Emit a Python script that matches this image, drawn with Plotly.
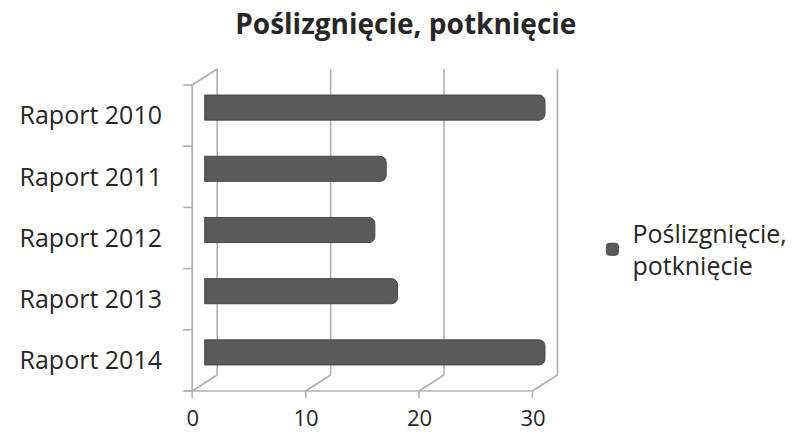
import plotly.graph_objects as go

categories = ["Raport 2010", "Raport 2011", "Raport 2012", "Raport 2013", "Raport 2014"]
values = [30, 16, 15, 17, 30]
x_ticks = [0, 10, 20, 30]
series_name = "Poślizgnięcie,<br>potknięcie"
title_text = "Poślizgnięcie, potknięcie"

W, H = 803, 434
X_RANGE = [-2, 31.5]
ML, MR, MT, MB = 182, 241, 77, 51
PW = W - ML - MR          # plot width in px
PH = H - MT - MB          # plot height in px
DX, DY = 12.5, 8          # half-depth offsets of the 3D box (px)
GRID = "#b0b0b0"
FONT = "'Open Sans', sans-serif"
TXT = "#262626"

fig = go.Figure()
fig.add_trace(go.Bar(
    y=categories, x=values, orientation="h", name=series_name,
    width=0.41,
    marker=dict(color="#5a5a5a", line=dict(color="#474747", width=1)),
    showlegend=True,
))

shapes = []
def seg(xv, x0, y0, x1, y1):
    shapes.append(dict(type="line", xref="x", yref="paper",
                       xsizemode="pixel", ysizemode="pixel",
                       xanchor=xv, yanchor=0,
                       x0=x0, y0=y0, x1=x1, y1=y1,
                       line=dict(color=GRID, width=1.6), layer="below"))

px_per_unit = PW / (X_RANGE[1] - X_RANGE[0])
floor_len = (x_ticks[-1] - x_ticks[0]) * px_per_unit
for v in x_ticks:
    seg(v, DX, DY, DX, PH + DY)          # back wall vertical line
    seg(v, -DX, -DY, DX, DY)             # floor diagonal
    seg(v, -DX, -DY, -DX, -DY - 7)       # tick mark on front floor edge
# front floor edge
seg(x_ticks[0], -DX - 8, -DY, -DX + floor_len, -DY)
# left wall front vertical line + top diagonal
seg(x_ticks[0], -DX, -DY, -DX, PH - DY)
seg(x_ticks[0], -DX, PH - DY, DX, PH + DY)
# left category ticks
n = len(categories)
for k in range(n + 1):
    yk = -DY + k * PH / n
    seg(x_ticks[0], -DX - 9, yk, -DX, yk)

fig.update_layout(
    width=W, height=H,
    margin=dict(l=ML, r=MR, t=MT, b=MB, autoexpand=False),
    paper_bgcolor="white", plot_bgcolor="rgba(0,0,0,0)",
    font=dict(family=FONT, color=TXT),
    title=dict(text="<b>" + title_text + "</b>", x=0.589, xref="paper", xanchor="center",
               y=0.945, yanchor="middle", font=dict(size=28, color=TXT)),
    barcornerradius=6,
    shapes=shapes,
    legend=dict(x=1.08, y=0.437, xanchor="left", yanchor="middle",
                font=dict(size=25, color=TXT), itemwidth=30,
                bgcolor="rgba(0,0,0,0)"),
    xaxis=dict(range=X_RANGE, tickvals=x_ticks, ticktext=[str(t) for t in x_ticks],
               showgrid=False, zeroline=False, showline=False, ticks="",
               tickfont=dict(size=22, color=TXT), automargin=False,
               ticklabelshift=-12, ticklabelstandoff=20, fixedrange=True),
    yaxis=dict(autorange="reversed", type="category",
               showgrid=False, zeroline=False, showline=False, ticks="",
               tickfont=dict(size=25, color=TXT), automargin=False,
               ticklabelshift=-8, ticklabelstandoff=19, fixedrange=True),
)

fig.write_html("out.html", config={"displayModeBar": False},
               post_script="document.body.style.margin='0';")
